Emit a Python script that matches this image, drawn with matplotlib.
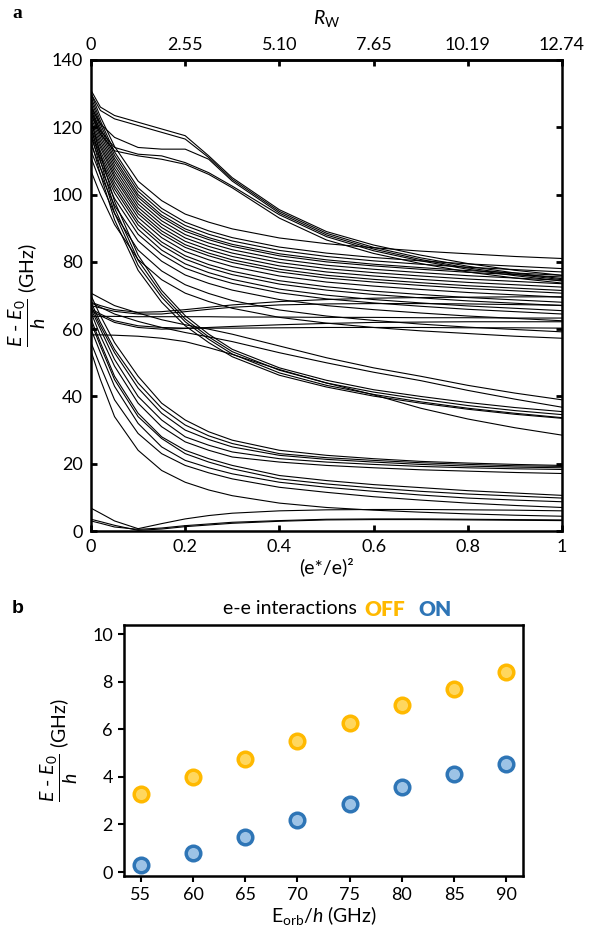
import matplotlib
matplotlib.use('Agg')
import matplotlib.pyplot as plt

plt.rcParams['font.family'] = ['Lato', 'DejaVu Sans']
plt.rcParams['mathtext.fontset'] = 'custom'
plt.rcParams['mathtext.rm'] = 'Lato'
plt.rcParams['mathtext.it'] = 'Lato:italic'
plt.rcParams['mathtext.bf'] = 'Lato:bold'

# ---------------- panel a: spectrum vs (e*/e)^2 ----------------
coupling = [0, 0.02, 0.05, 0.1, 0.15, 0.2, 0.25, 0.3, 0.4, 0.5, 0.6, 0.7, 0.8, 0.9, 1.0]

low_band = [
    [6.8, 5.3, 3.0, 0.7, 2.2, 3.6, 4.6, 5.3, 6.0, 6.3, 6.4, 6.4, 6.3, 6.2, 6.0],
    [3.5, 2.8, 1.7, 0.2, 0.6, 1.3, 1.8, 2.3, 2.9, 3.3, 3.4, 3.4, 3.3, 3.2, 3.1],
    [3.0, 2.3, 1.2, 0.5, 0.9, 1.6, 2.1, 2.6, 3.1, 3.5, 3.6, 3.6, 3.5, 3.4, 3.3],
]

second_band = [
    [70, 64, 56, 46, 38, 33, 29.5, 27, 24, 22.5, 21.5, 20.7, 20.2, 19.8, 19.5],
    [68, 62, 54, 44, 36.5, 31.5, 28.3, 26, 23, 21.8, 21, 20.3, 19.8, 19.4, 19.2],
    [67, 61, 53, 42.5, 35, 30, 27.2, 25, 22.5, 21.3, 20.5, 19.8, 19.3, 19, 18.8],
    [66, 60, 51, 40, 33, 28, 25.5, 23.5, 21.5, 20.5, 19.8, 19.2, 18.8, 18.5, 18.3],
    [65, 58, 49, 38, 31, 26.5, 24, 22, 20.5, 19.5, 18.8, 18.2, 17.8, 17.4, 17.1],
    [63, 56, 46, 35, 28, 24, 21.5, 19.5, 16.5, 15, 13.8, 12.9, 12, 11.3, 10.6],
    [62, 55, 45, 34, 27.5, 23, 20.5, 18.5, 15.5, 14, 12.8, 11.8, 11, 10.4, 9.8],
    [60, 53, 43, 32, 25, 21, 18.8, 17, 14.5, 13, 11.8, 10.7, 9.8, 9.2, 8.7],
    [56, 49, 39, 29, 23, 19.5, 17.3, 15.5, 13, 11.5, 10.2, 9.2, 8.3, 7.6, 7],
    [53.5, 45, 34, 24, 18, 14.5, 12.2, 10.5, 8.3, 7, 6.2, 5.6, 5.1, 4.7, 4.4],
]

middle_descending = [
    [70.7, 69.2, 67, 64.8, 62.8, 61.3, 60, 58.5, 55, 51.5, 48.5, 46, 43.3, 41, 39],
    [67.8, 66.5, 64.5, 62.3, 60.5, 59, 57.7, 56.3, 53, 50, 47.2, 44.7, 41.8, 39.2, 36.8],
    [58.3, 58.3, 58.2, 57.9, 57.3, 56.3, 54.5, 52.5, 48, 44, 40.5, 36.5, 33.3, 30.7, 28.5],
    [122, 112, 98, 82, 71.5, 64, 58.5, 54, 48.5, 44.8, 42, 40, 38.2, 36.7, 35.5],
    [120, 110, 96, 80.5, 70.5, 63, 57.7, 53.3, 47.8, 44, 41.3, 39.2, 37.3, 35.8, 34.6],
    [118, 108, 94.5, 79, 69.5, 62.2, 57, 52.6, 47, 43.3, 40.6, 38.4, 36.5, 35, 33.7],
    [116, 106, 92.5, 77.5, 68, 61, 56, 51.8, 46.3, 42.8, 40.1, 38, 36.2, 34.7, 33.5],
]

middle_flat = [
    [63.8, 63.8, 63.8, 63.7, 63.7, 63.7, 63.7, 63.6, 63.6, 63.5, 63.5, 63.4, 63.4, 63.3, 63.3],
    [67, 66.3, 65.3, 64.5, 64.5, 65.2, 65.9, 66.5, 67.2, 67.5, 67.6, 67.6, 67.5, 67.3, 67.1],
    [68, 67, 65.8, 65, 65.2, 65.8, 66.5, 67.2, 68.2, 68.8, 69.2, 69.4, 69.5, 69.6, 69.6],
    [66, 64.5, 62.5, 61, 60.5, 60.3, 60.3, 60.3, 60.4, 60.5, 60.5, 60.5, 60.4, 60.4, 60.3],
    [65.5, 64, 62, 60.5, 60, 60.2, 60.5, 60.8, 61.3, 61.7, 62, 62.1, 62.2, 62.2, 62.2],
]

upper_band = [
    [130, 123.1, 114.3, 104.0, 98.2, 94.2, 91.8, 89.8, 87.1, 85.4, 84.2, 83.2, 82.4, 81.6, 81],
    [129, 121.9, 112.7, 102.0, 95.9, 91.8, 89.2, 87.2, 84.4, 82.6, 81.3, 80.3, 79.4, 78.7, 78],
    [128, 120.9, 111.7, 101.0, 94.9, 90.8, 88.2, 86.2, 83.4, 81.6, 80.3, 79.3, 78.4, 77.7, 77],
    [127, 119.9, 110.7, 100.0, 93.9, 89.8, 87.2, 85.2, 82.4, 80.6, 79.3, 78.3, 77.4, 76.7, 76],
    [126, 118.9, 109.8, 99.2, 93.2, 89.1, 86.6, 84.6, 81.8, 80.0, 78.8, 77.8, 76.9, 76.2, 75.5],
    [125, 117.9, 108.8, 98.2, 92.2, 88.1, 85.6, 83.6, 80.8, 79.0, 77.8, 76.8, 75.9, 75.2, 74.5],
    [124, 116.9, 107.8, 97.2, 91.2, 87.1, 84.6, 82.6, 79.8, 78.0, 76.8, 75.8, 74.9, 74.2, 73.5],
    [123, 115.9, 106.8, 96.2, 90.2, 86.1, 83.6, 81.6, 78.8, 77.0, 75.8, 74.8, 73.9, 73.2, 72.5],
    [122, 114.9, 105.8, 95.2, 89.2, 85.1, 82.6, 80.6, 77.8, 76.0, 74.8, 73.8, 72.9, 72.2, 71.5],
    [121, 114.0, 104.9, 94.3, 88.3, 84.3, 81.8, 79.8, 77.0, 75.2, 74.0, 73.0, 72.1, 71.4, 70.7],
    [120, 112.9, 103.8, 93.2, 87.2, 83.1, 80.6, 78.6, 75.8, 74.0, 72.8, 71.8, 70.9, 70.2, 69.5],
    [119, 111.9, 102.7, 92.0, 85.9, 81.8, 79.2, 77.2, 74.4, 72.6, 71.3, 70.3, 69.4, 68.7, 68],
    [118, 110.9, 101.7, 91.0, 84.9, 80.8, 78.2, 76.2, 73.4, 71.6, 70.3, 69.3, 68.4, 67.7, 67],
    [117, 109.8, 100.5, 89.7, 83.5, 79.4, 76.8, 74.8, 71.9, 70.1, 68.8, 67.8, 66.9, 66.2, 65.5],
    [115, 107.9, 98.8, 88.2, 82.2, 78.1, 75.6, 73.6, 70.8, 69.0, 67.8, 66.8, 65.9, 65.2, 64.5],
    [113, 105.9, 96.8, 86.2, 80.2, 76.1, 73.6, 71.6, 68.8, 67.0, 65.8, 64.8, 63.9, 63.2, 62.5],
    [111, 103.7, 94.4, 83.5, 77.3, 73.2, 70.6, 68.5, 65.7, 63.9, 62.6, 61.5, 60.6, 59.9, 59.2],
    [107, 100.0, 91.1, 80.7, 74.7, 70.7, 68.2, 66.2, 63.5, 61.8, 60.5, 59.5, 58.7, 57.9, 57.3],
]

kinked_band = [
    [131, 126, 123.5, 121.5, 119.5, 117.5, 111.5, 105, 95.5, 89, 85, 82, 79.5, 77.5, 76],
    [130, 125, 122.5, 120.5, 118.5, 116.5, 111, 104.5, 95, 88.5, 84.3, 81.2, 78.7, 76.7, 75],
    [126, 121, 117, 114, 113.5, 113.5, 110.5, 104, 94.5, 88, 83.8, 80.7, 78.2, 76.3, 74.7],
    [125, 119, 114, 112, 111.5, 109.5, 106.5, 102.5, 94, 87.5, 83.3, 80.3, 77.8, 75.9, 74.3],
    [124, 118, 113, 111.5, 110.5, 109, 106, 102, 93, 86.5, 82.5, 79.5, 77, 75.2, 73.7],
]

rw_ticks = [0, 0.2, 0.4, 0.6, 0.8, 1.0]
rw_labels = ['0', '2.55', '5.10', '7.65', '10.19', '12.74']

# ---------------- panel b: gap vs E_orb ----------------
e_orb = [55, 60, 65, 70, 75, 80, 85, 90]
gap_off = [3.28, 3.98, 4.73, 5.5, 6.26, 7.02, 7.7, 8.4]
gap_on = [0.31, 0.8, 1.48, 2.18, 2.87, 3.57, 4.1, 4.52]

yellow_edge, yellow_face = '#FFB900', '#FFD75E'
blue_edge, blue_face = '#2E75B6', '#9DC3E6'

ylab = r'$\dfrac{E\ \text{-}\ E_0}{h}$ (GHz)'

fig = plt.figure(figsize=(5.92, 9.30), dpi=100)

ax = fig.add_axes([0.1537, 0.429, 0.7956, 0.5065])
for group in (low_band, second_band, middle_descending, middle_flat, upper_band, kinked_band):
    for level in group:
        ax.plot(coupling, level, color='black', lw=0.8)
ax.set_xlim(0, 1)
ax.set_ylim(0, 140)
ax.set_xticks(rw_ticks, labels=['0', '0.2', '0.4', '0.6', '0.8', '1'])
ax.set_yticks(range(0, 141, 20))
ax.tick_params(direction='in', length=4, width=2, labelsize=13, right=True, pad=6)
for s in ax.spines.values():
    s.set_linewidth(1.8)

top = ax.secondary_xaxis('top')
top.set_xticks(rw_ticks, labels=rw_labels)
top.tick_params(direction='in', length=4, width=2, labelsize=13, pad=5)
top.spines['top'].set_linewidth(1.8)
ax.text(0.5, 1.089, r'$R_{\mathrm{W}}$', transform=ax.transAxes, ha='center', va='center', fontsize=14)

ax.set_xlabel('(e*/e)²', fontsize=14)
ax.xaxis.set_label_coords(0.5, -0.055)
ax.set_ylabel(ylab, fontsize=14)
ax.yaxis.set_label_coords(-0.091, 0.5)

fig.text(12 / 592, 1 - 14 / 930, 'a', fontsize=14, fontweight='bold', family='Liberation Serif', va='center')

# panel b
bx = fig.add_axes([0.2095, 0.058, 0.674, 0.270])
bx.plot(e_orb, gap_off, 'o', ms=10.5, mew=2.5, mfc=yellow_face, mec=yellow_edge, ls='none')
bx.plot(e_orb, gap_on, 'o', ms=10.5, mew=2.5, mfc=blue_face, mec=blue_edge, ls='none')
bx.set_xlim(53.4, 91.6)
bx.set_ylim(-0.17, 10.38)
bx.set_xticks(e_orb)
bx.set_yticks(range(0, 11, 2))
bx.tick_params(direction='out', length=4, width=1.5, labelsize=13, pad=4)
for s in bx.spines.values():
    s.set_linewidth(1.8)
bx.set_xlabel(r'$\mathrm{E}_{\mathrm{orb}}/h$ (GHz)', fontsize=14)
bx.xaxis.set_label_coords(0.5, -0.112)
bx.set_ylabel(ylab, fontsize=14)
bx.yaxis.set_label_coords(-0.11, 0.5)

fig.text(12 / 592, 1 - 608 / 930, 'b', fontsize=14, fontweight='bold', family='Liberation Sans', va='center')
fig.text(357 / 592, 1 - 609 / 930, 'e-e interactions', fontsize=14, ha='right', va='center')
fig.text(364 / 592, 1 - 609 / 930, 'OFF', fontsize=15, fontweight='heavy', color=yellow_edge, ha='left', va='center')
fig.text(418 / 592, 1 - 609 / 930, 'ON', fontsize=15, fontweight='heavy', color=blue_edge, ha='left', va='center')

fig.savefig('out.png', dpi=100)
